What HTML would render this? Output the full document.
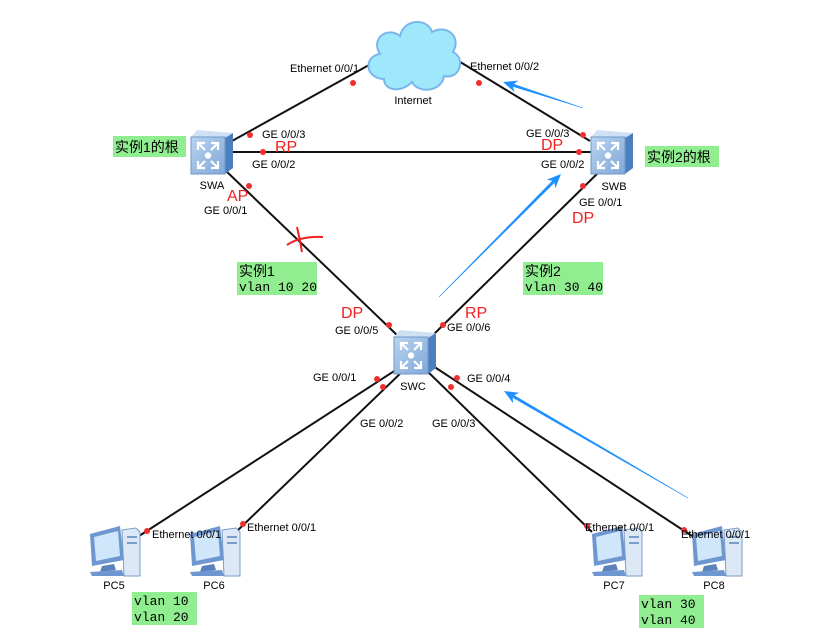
<!DOCTYPE html>
<html><head><meta charset="utf-8"><style>
html,body{margin:0;padding:0;background:#fff;}
svg{display:block;}
.t{font-family:"Liberation Sans",sans-serif;font-size:11px;fill:#000;}
.r{font-family:"Liberation Sans",sans-serif;font-size:16px;fill:#f02020;}
.c{font-family:"Liberation Sans","Noto Sans CJK SC",sans-serif;font-size:14px;fill:#000;}
.m{font-family:"Liberation Mono",monospace;font-size:13px;fill:#000;}
</style></head><body>
<svg width="833" height="641" viewBox="0 0 833 641" xmlns="http://www.w3.org/2000/svg">
<defs>
<linearGradient id="sf" x1="0" y1="0" x2="1" y2="1"><stop offset="0" stop-color="#b9d3ee"/><stop offset="1" stop-color="#7fa8d8"/></linearGradient>
<g id="sw">
<polygon points="0,7 6,0 42,3 34,8" fill="#cfe0f3"/>
<polygon points="34,8 42,3 42,38 34,44" fill="#4d7fbf"/>
<rect x="0" y="7" width="34" height="37" fill="url(#sf)" stroke="#6f97c9" stroke-width="1"/>
<g stroke="#fff" stroke-width="2.2" fill="none">
<path d="M7 13 l7 7 M7 20 v-7 h7"/><path d="M27 13 l-7 7 M27 20 v-7 h-7"/>
<path d="M7 38 l7 -7 M7 31 v7 h7"/><path d="M27 38 l-7 -7 M27 31 v7 h-7"/>
</g>
<circle cx="17" cy="25.5" r="3.2" fill="#fff"/>
</g>
<g id="pc">
<polygon points="36,4 50,2 54,6 54,50 38,50" fill="#dce8f6" stroke="#7a9cc8"/>
<rect x="41" y="10" width="10" height="2" fill="#7a9cc8"/><rect x="41" y="16" width="10" height="2" fill="#7a9cc8"/>
<polygon points="4,8 34,0 38,34 6,40" fill="#6f97cf"/>
<polygon points="8,11 32,5 34,30 10,35" fill="#cfe6fb"/>
<polygon points="16,40 28,38 30,44 14,46" fill="#5b82bb"/>
<polygon points="4,46 36,44 38,50 6,50" fill="#6f97cf"/>
</g>
</defs>

<!-- lines -->
<g stroke="#111" stroke-width="2" fill="none">
<line x1="232" y1="141" x2="378" y2="60"/>
<line x1="590" y1="141" x2="452" y2="57"/>
<line x1="233" y1="152" x2="591" y2="152"/>
<line x1="225" y1="170" x2="398" y2="336"/>
<line x1="601" y1="170" x2="433" y2="335"/>
<line x1="402" y1="366" x2="136" y2="538"/>
<line x1="406" y1="368" x2="236" y2="532"/>
<line x1="424" y1="368" x2="592" y2="532"/>
<line x1="430" y1="364" x2="692" y2="536"/>
</g>

<!-- cloud -->
<g>
<path d="M384 79 C364 78 364 56 380 54 C370 38 388 26 400 36 C404 18 428 18 432 32 C446 24 462 36 453 52 C466 58 460 80 444 76 C442 92 418 94 412 82 C400 94 384 90 384 79Z" fill="#9fe8fb" stroke="#7ab6ec" stroke-width="2"/>
</g>
<text class="t" x="413" y="104" text-anchor="middle">Internet</text>

<!-- switches -->
<use href="#sw" x="191" y="130"/>
<use href="#sw" x="591" y="130"/>
<use href="#sw" x="394" y="330"/>
<text class="t" x="212" y="189" text-anchor="middle">SWA</text>
<text class="t" x="614" y="190" text-anchor="middle">SWB</text>
<text class="t" x="413" y="390" text-anchor="middle">SWC</text>

<!-- PCs -->
<use href="#pc" x="86" y="526"/>
<use href="#pc" x="186" y="526"/>
<use href="#pc" x="588" y="526"/>
<use href="#pc" x="688" y="526"/>
<text class="t" x="114" y="589" text-anchor="middle">PC5</text>
<text class="t" x="214" y="589" text-anchor="middle">PC6</text>
<text class="t" x="614" y="589" text-anchor="middle">PC7</text>
<text class="t" x="714" y="589" text-anchor="middle">PC8</text>

<!-- dots -->
<g fill="#f03030">
<circle cx="353" cy="83" r="3"/><circle cx="479" cy="83" r="3"/>
<circle cx="250" cy="135" r="3"/><circle cx="583" cy="135" r="3"/>
<circle cx="263" cy="152" r="3"/><circle cx="579" cy="152" r="3"/>
<circle cx="249" cy="186" r="3"/><circle cx="583" cy="186" r="3"/>
<circle cx="389" cy="325" r="3"/><circle cx="443" cy="325" r="3"/>
<circle cx="377" cy="379" r="3"/><circle cx="383" cy="387" r="3"/>
<circle cx="451" cy="387" r="3"/><circle cx="457" cy="378" r="3"/>
<circle cx="147" cy="531" r="3"/><circle cx="243" cy="524" r="3"/>
<circle cx="587" cy="526" r="3"/><circle cx="684" cy="530" r="3"/>
</g>

<!-- port labels -->
<text class="t" x="290" y="72">Ethernet 0/0/1</text>
<text class="t" x="470" y="70">Ethernet 0/0/2</text>
<text class="t" x="262" y="138">GE 0/0/3</text>
<text class="t" x="252" y="168">GE 0/0/2</text>
<text class="t" x="526" y="137">GE 0/0/3</text>
<text class="t" x="541" y="168">GE 0/0/2</text>
<text class="t" x="204" y="214">GE 0/0/1</text>
<text class="t" x="579" y="206">GE 0/0/1</text>
<text class="t" x="335" y="334">GE 0/0/5</text>
<text class="t" x="447" y="331">GE 0/0/6</text>
<text class="t" x="313" y="381">GE 0/0/1</text>
<text class="t" x="360" y="427">GE 0/0/2</text>
<text class="t" x="432" y="427">GE 0/0/3</text>
<text class="t" x="467" y="382">GE 0/0/4</text>
<text class="t" x="152" y="538">Ethernet 0/0/1</text>
<text class="t" x="247" y="531">Ethernet 0/0/1</text>
<text class="t" x="585" y="531">Ethernet 0/0/1</text>
<text class="t" x="681" y="538">Ethernet 0/0/1</text>

<!-- red role labels -->
<text class="r" x="275" y="152">RP</text>
<text class="r" x="541" y="150">DP</text>
<text class="r" x="227" y="201">AP</text>
<text class="r" x="572" y="223">DP</text>
<text class="r" x="341" y="318">DP</text>
<text class="r" x="465" y="318">RP</text>

<!-- red X -->
<path d="M297 227 Q300 240 302 252 M287 245 Q300 236 323 237" stroke="#f02020" stroke-width="2" fill="none"/>

<!-- green boxes -->
<rect x="113" y="136" width="73" height="21" fill="#90ee90"/>
<text class="c" x="115" y="152">实例1的根</text>
<rect x="645" y="146" width="74" height="21" fill="#90ee90"/>
<text class="c" x="647" y="162">实例2的根</text>
<rect x="237" y="262" width="80" height="33" fill="#90ee90"/>
<text class="c" x="239" y="276">实例1</text>
<text class="m" x="239" y="291">vlan 10 20</text>
<rect x="523" y="262" width="80" height="33" fill="#90ee90"/>
<text class="c" x="525" y="276">实例2</text>
<text class="m" x="525" y="291">vlan 30 40</text>
<rect x="132" y="592" width="65" height="33" fill="#90ee90"/>
<text class="m" x="134" y="605">vlan 10</text>
<text class="m" x="134" y="621">vlan 20</text>
<rect x="639" y="595" width="65" height="33" fill="#90ee90"/>
<text class="m" x="641" y="608">vlan 30</text>
<text class="m" x="641" y="624">vlan 40</text>

<!-- blue tapered arrows -->
<g fill="#1e90ff">
<polygon points="503,82 518.2,80.6 514,84 583.1,107.7 582.9,108.3 513,86.8 514.4,92"/>
<polygon points="561,174 555.4,188.1 554.4,182.9 439.2,297.2 438.8,296.8 552.2,180.7 546.8,179.7"/>
<polygon points="504,391 519.1,392.8 514.3,395.2 688.2,497.7 687.8,498.3 512.7,397.8 513.1,403.2"/>
</g>
</svg>
</body></html>
